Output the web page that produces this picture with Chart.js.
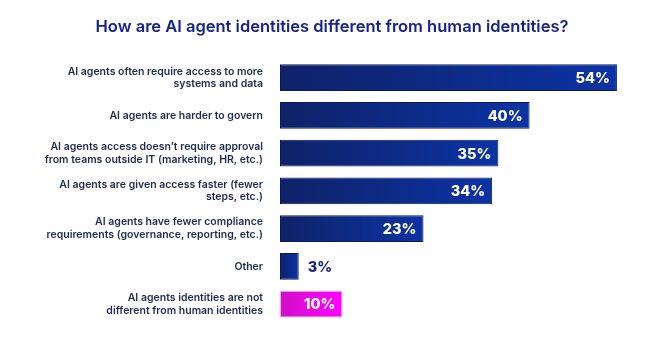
<!DOCTYPE html>
<html>
<head>
<meta charset="utf-8">
<script src="https://cdn.jsdelivr.net/npm/chart.js@4/dist/chart.umd.min.js"></script>
<style>
  html, body { margin: 0; padding: 0; background: #ffffff; }
  #wrap { width: 650px; height: 345px; position: relative; }
</style>
</head>
<body>
<div id="wrap"><canvas id="aiChart"></canvas></div>
<script>
// data
var categories = [
  ["AI agents often require access to more", "systems and data"],
  "AI agents are harder to govern",
  ["AI agents access doesn\u2019t require approval", "from teams outside IT (marketing, HR, etc.)"],
  ["AI agents are given access faster (fewer", "steps, etc.)"],
  ["AI agents have fewer compliance", "requirements (governance, reporting, etc.)"],
  "Other",
  ["AI agents identities are not", "different from human identities"]
];
var shares = [54, 40, 35, 34, 23, 3, 10];
var highlight = [false, false, false, false, false, false, true];

var FONT = "Inter, 'Noto Sans', sans-serif";

// each bar gets its own left-to-right gradient
function barFill(ctx) {
  var chart = ctx.chart;
  var area = chart.chartArea;
  var xs = chart.scales.x;
  if (!area || !xs) return '#0d2a8a';
  var x0 = xs.getPixelForValue(0);
  var x1 = xs.getPixelForValue(shares[ctx.dataIndex]);
  var g = chart.ctx.createLinearGradient(x0, 0, Math.max(x1, x0 + 1), 0);
  if (highlight[ctx.dataIndex]) {
    g.addColorStop(0, '#d010c6');
    g.addColorStop(1, '#ff00ff');
  } else {
    g.addColorStop(0, '#0f2268');
    g.addColorStop(1, '#0b33a4');
  }
  return g;
}

// percentage labels: inside the bar end, or just outside for short bars
var valueLabels = {
  id: 'valueLabels',
  afterDatasetsDraw: function(chart) {
    var ctx = chart.ctx;
    var meta = chart.getDatasetMeta(0);
    ctx.save();
    ctx.font = "800 14.5px " + FONT;
    ctx.textBaseline = 'middle';
    meta.data.forEach(function(bar, i) {
      var txt = shares[i] + '%';
      var w = bar.x - bar.base;
      if (w > 50) {
        ctx.fillStyle = '#ffffff';
        ctx.textAlign = 'right';
        ctx.fillText(txt, bar.x - 7, bar.y + 1);
      } else {
        ctx.fillStyle = '#1a2494';
        ctx.textAlign = 'left';
        ctx.fillText(txt, bar.x + 9, bar.y + 1);
      }
    });
    ctx.restore();
  }
};

new Chart(document.getElementById('aiChart').getContext('2d'), {
  type: 'bar',
  data: {
    labels: categories,
    datasets: [{
      data: shares,
      backgroundColor: barFill,
      borderColor: function(ctx) { return highlight[ctx.dataIndex] ? '#f7a8f2' : '#0b1a5e'; },
      borderWidth: 1,
      borderSkipped: false,
      barPercentage: 0.71,
      categoryPercentage: 1
    }]
  },
  options: {
    indexAxis: 'y',
    responsive: true,
    maintainAspectRatio: false,
    animation: false,
    layout: { padding: { left: 14, right: 0, top: 0, bottom: 22 } },
    plugins: {
      legend: { display: false },
      tooltip: { enabled: false },
      title: {
        display: true,
        text: 'How are AI agent identities different from human identities?',
        color: '#16238c',
        font: { family: FONT, size: 16.5, weight: '600' },
        padding: { top: 17, bottom: 22 }
      }
    },
    scales: {
      x: {
        display: false,
        min: 0,
        max: 59.3
      },
      y: {
        grid: { display: false, drawTicks: false },
        border: { display: false },
        afterFit: function(scale) {
          scale.width = 266;
          // the multi-line tick labels would otherwise pad the plot area
          scale.paddingTop = 0;
          scale.paddingBottom = 0;
        },
        ticks: {
          color: '#1f2b4d',
          padding: 17,
          font: { family: FONT, size: 10.5, weight: '600', lineHeight: 1.2 }
        }
      }
    }
  },
  plugins: [valueLabels]
});
</script>
</body>
</html>
